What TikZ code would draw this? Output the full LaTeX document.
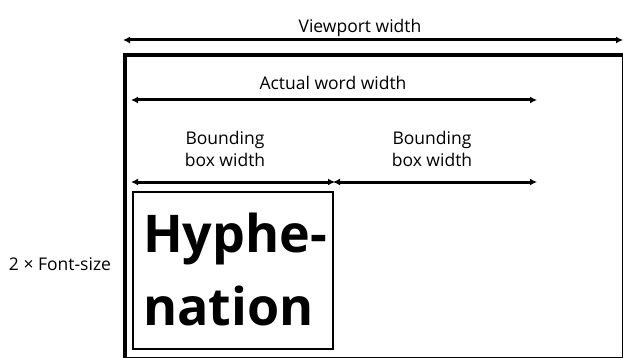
\documentclass[tikz,border=0pt]{standalone}
\usepackage{fontspec}
\setmainfont{Open Sans}
\usetikzlibrary{arrows.meta}
\begin{document}
\begin{tikzpicture}[x=1pt,y=-1pt,
  dim/.style={{Latex[length=7pt,width=7pt]}-{Latex[length=7pt,width=7pt]}, line width=3pt},
  lbl/.style={font=\fontsize{17.5}{22}\selectfont, align=center, inner sep=0pt},
  word/.style={font=\fontsize{52}{73}\selectfont\bfseries, align=left, inner sep=0pt}]
  \useasboundingbox (0,0) rectangle (623,358);
  \clip (0,0) rectangle (623,358);
  % viewport frame (runs past the page edge at right and bottom)
  \draw[line width=3.4pt] (125,55) rectangle (623.5,358.5);
  % word bounding box
  \draw[line width=2pt] (133,192) rectangle (333,349);
  % dimension anchors
  \coordinate (vpL) at (123,40);   \coordinate (vpR) at (623,40);
  \coordinate (awL) at (131,100);  \coordinate (awR) at (537,100);
  \coordinate (b1L) at (131,182);  \coordinate (b1R) at (335,182);
  \coordinate (b2L) at (333,182);  \coordinate (b2R) at (537,182);
  \draw[dim] (vpL) -- (vpR);
  \draw[dim] (awL) -- (awR);
  \draw[dim] (b1L) -- (b1R);
  \draw[dim] (b2L) -- (b2R);
  % labels
  \node[lbl, anchor=base] (tvp) at (360,33) {Viewport width};
  \node[lbl, anchor=base] (taw) at (333,90) {Actual word width};
  \node[lbl, anchor=base] (tb1a) at (225,145) {Bounding};
  \node[lbl, anchor=base] (tb1b) at (225,167) {box width};
  \node[lbl, anchor=base] (tb2a) at (432,145) {Bounding};
  \node[lbl, anchor=base] (tb2b) at (432,167) {box width};
  \node[lbl, anchor=base] (tfs) at (60,270) {2 × Font-size};
  \node[word, anchor=base west] (w1) at (143,252) {Hyphe-};
  \node[word, anchor=base west] (w2) at (143,325) {nation};
\end{tikzpicture}
\end{document}
